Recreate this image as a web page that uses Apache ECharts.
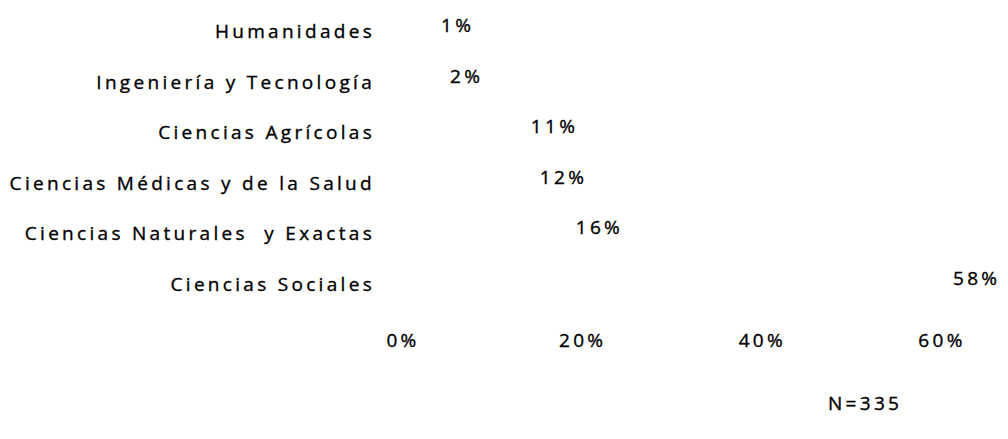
<!DOCTYPE html>
<html>
<head>
<meta charset="utf-8">
<script src="https://cdn.jsdelivr.net/npm/echarts@6/dist/echarts.min.js"></script>
<style>
html,body{margin:0;padding:0;background:#fff;}
#chart{width:1008px;height:439px;}
#chart svg text{letter-spacing:3.3px;stroke:#000;stroke-width:0.35px;}
</style>
</head>
<body>
<div id="chart"></div>
<script>
const categories = ["Humanidades","Ingeniería y Tecnología","Ciencias Agrícolas","Ciencias Médicas y de la Salud","Ciencias Naturales  y Exactas","Ciencias Sociales"];
const values = [1, 2, 11, 12, 16, 58];
const xTicks = [0, 20, 40, 60];
const note = "N=335";

const chart = echarts.init(document.getElementById('chart'), null, {renderer: 'svg'});
const font = '"Open Sans", sans-serif';
chart.setOption({
  animation: false,
  backgroundColor: '#ffffff',
  grid: {left: 403, width: 539, top: 6, height: 303, containLabel: false},
  xAxis: {
    type: 'value', min: xTicks[0], max: xTicks[xTicks.length - 1], interval: 20,
    axisLine: {show: false}, axisTick: {show: false}, splitLine: {show: false},
    axisLabel: {formatter: '{value}%', color: '#000', fontFamily: font, fontSize: 19, margin: 21}
  },
  yAxis: {
    type: 'category', data: categories, inverse: true,
    axisLine: {show: false}, axisTick: {show: false},
    axisLabel: {color: '#000', fontFamily: font, fontSize: 19, margin: 28}
  },
  series: [{
    type: 'bar', data: values, barWidth: '60%',
    itemStyle: {color: 'rgba(255,255,255,0)'},
    label: {show: true, position: 'right', distance: 29, offset: [0, -6],
      formatter: '{c}%', color: '#000', fontFamily: font, fontSize: 19}
  }],
  graphic: [{
    type: 'text', left: 828, top: 393,
    style: {text: note, fill: '#000', font: '19px ' + font}
  }]
});
</script>
</body>
</html>
